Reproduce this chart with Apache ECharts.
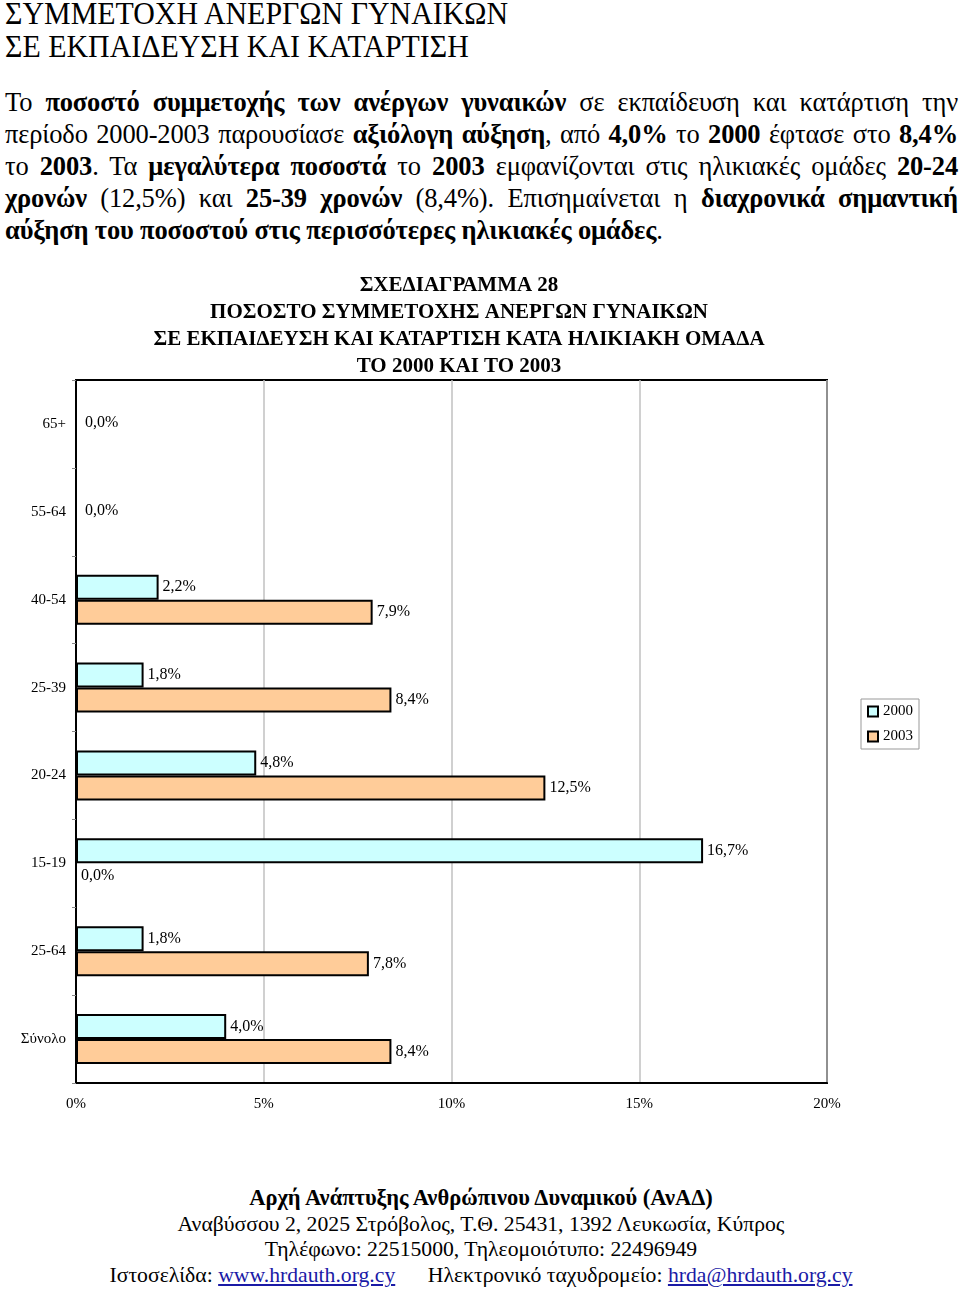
<!DOCTYPE html>
<html>
<head>
<meta charset="utf-8">
<script src="https://cdn.jsdelivr.net/npm/echarts@6/dist/echarts.min.js"></script>
<style>
  body { margin: 0; background: #fff; }
  #page { position: relative; width: 960px; height: 1289px; font-family: "Liberation Serif", serif; color: #000; overflow: hidden; }
  .head { position: absolute; left: 5px; font-family: "Liberation Serif", serif; font-size: 32px; line-height: 33px; white-space: nowrap; transform: scaleX(0.935); transform-origin: left center; }
  #para { position: absolute; left: 5px; top: 86px; width: 953px; font-family: "Liberation Serif", serif; font-size: 26.5px; letter-spacing: -0.15px; line-height: 32px; }
  #para div { text-align: justify; text-align-last: justify; white-space: nowrap; }
  #para div.last { text-align-last: left; }
  #chart { position: absolute; left: 0; top: 265px; width: 960px; height: 870px; }
  #foot { position: absolute; left: 0; top: 1185px; width: 962px; text-align: center; font-size: 21.7px; line-height: 25.7px; }
  #foot b { font-size: 22.5px; }
  #foot a { color: #1a1aa6; text-decoration: underline; }
</style>
</head>
<body>
<div id="page">
  <div class="head" style="top:-3px">ΣΥΜΜΕΤΟΧΗ ΑΝΕΡΓΩΝ ΓΥΝΑΙΚΩΝ</div>
  <div class="head" style="top:30px">ΣΕ ΕΚΠΑΙΔΕΥΣΗ ΚΑΙ ΚΑΤΑΡΤΙΣΗ</div>
  <div id="para">
    <div>Το <b>ποσοστό συμμετοχής των ανέργων γυναικών</b> σε εκπαίδευση και κατάρτιση την</div>
    <div>περίοδο 2000-2003 παρουσίασε <b>αξιόλογη αύξηση</b>, από <b>4,0%</b> το <b>2000</b> έφτασε στο <b>8,4%</b></div>
    <div>το <b>2003</b>. Τα <b>μεγαλύτερα ποσοστά</b> το <b>2003</b> εμφανίζονται στις ηλικιακές ομάδες <b>20-24</b></div>
    <div><b>χρονών</b> (12,5%) και <b>25-39 χρονών</b> (8,4%). Επισημαίνεται η <b>διαχρονικά σημαντική</b></div>
    <div class="last"><b>αύξηση του ποσοστού στις περισσότερες ηλικιακές ομάδες</b>.</div>
  </div>
  <div id="chart"></div>
  <div id="foot">
    <div><b>Αρχή Ανάπτυξης Ανθρώπινου Δυναμικού (ΑνΑΔ)</b></div>
    <div>Αναβύσσου 2, 2025 Στρόβολος, Τ.Θ. 25431, 1392 Λευκωσία, Κύπρος</div>
    <div>Τηλέφωνο: 22515000, Τηλεομοιότυπο: 22496949</div>
    <div>Ιστοσελίδα: <a>www.hrdauth.org.cy</a> &nbsp;&nbsp;&nbsp;&nbsp; Ηλεκτρονικό ταχυδρομείο: <a>hrda@hrdauth.org.cy</a></div>
  </div>
</div>
<script>
// κατηγορίες (από πάνω προς τα κάτω)
var categories = ['65+', '55-64', '40-54', '25-39', '20-24', '15-19', '25-64', 'Σύνολο'];
var values2000 = [null, null, 2.2, 1.8, 4.8, 16.7, 1.8, 4.0];
var values2003 = [0.0, 0.0, 7.9, 8.4, 12.5, 0.0, 7.8, 8.4];
var xTicks = [0, 5, 10, 15, 20];
var titleLines = [
  'ΣΧΕΔΙΑΓΡΑΜΜΑ 28',
  'ΠΟΣΟΣΤΟ ΣΥΜΜΕΤΟΧΗΣ ΑΝΕΡΓΩΝ ΓΥΝΑΙΚΩΝ',
  'ΣΕ ΕΚΠΑΙΔΕΥΣΗ ΚΑΙ ΚΑΤΑΡΤΙΣΗ ΚΑΤΑ ΗΛΙΚΙΑΚΗ ΟΜΑΔΑ',
  'ΤΟ 2000 ΚΑΙ ΤΟ 2003'
];

var serif = '"Liberation Serif", serif';

function pct(p) {
  return p.value.toFixed(1).replace('.', ',') + '%';
}

// όταν λείπει η τιμή του 2000, η ετικέτα του 2003 μπαίνει στη μέση
var data2003 = values2003.map(function (v, i) {
  if (values2000[i] === null) {
    return { value: v, label: { offset: [4, -14] } };
  }
  return v;
});

var myChart = echarts.init(document.getElementById('chart'));

var labelStyle = { show: true, position: 'right', distance: 4, formatter: pct, fontSize: 16, color: '#000', fontFamily: serif };

var option = {
  animation: false,
  textStyle: { fontFamily: serif },
  graphic: titleLines.map(function (t, i) {
    return {
      type: 'text',
      x: 459,
      y: 21 + i * 26.7,
      style: {
        text: t,
        fill: '#000',
        font: 'bold 21px ' + serif,
        textAlign: 'center',
        textVerticalAlign: 'middle'
      }
    };
  }),
  legend: {
    orient: 'vertical',
    left: 861,
    top: 434,
    data: ['2000', '2003'],
    backgroundColor: '#fff',
    borderColor: '#999',
    borderWidth: 1,
    padding: [5, 6, 5, 6],
    itemWidth: 10,
    itemHeight: 10,
    itemGap: 10,
    icon: 'rect',
    textStyle: { fontFamily: serif, fontSize: 15, color: '#000' }
  },
  grid: {
    left: 76,
    top: 115,
    width: 751,
    height: 703,
    show: true,
    borderColor: '#000',
    borderWidth: 2,
    containLabel: false
  },
  xAxis: {
    type: 'value',
    min: xTicks[0],
    max: xTicks[xTicks.length - 1],
    interval: 5,
    axisLine: { show: true, lineStyle: { color: '#000', width: 2 } },
    axisTick: { show: false },
    axisLabel: { formatter: '{value}%', margin: 14, fontSize: 15, color: '#000', fontFamily: serif },
    splitLine: { show: true, lineStyle: { color: '#c0c0c0', width: 1.5 } }
  },
  yAxis: {
    type: 'category',
    data: categories,
    inverse: true,
    axisLine: { show: true, lineStyle: { color: '#000', width: 2 } },
    axisTick: { show: true, length: 4, lineStyle: { color: '#888' } },
    axisLabel: { margin: 10, fontSize: 15, color: '#000', fontFamily: serif }
  },
  series: [
    {
      name: '2000',
      type: 'bar',
      data: values2000,
      barGap: '0%',
      barCategoryGap: '43%',
      itemStyle: { color: '#ccffff', borderColor: '#000', borderWidth: 2 },
      label: labelStyle
    },
    {
      name: '2003',
      type: 'bar',
      data: data2003,
      barGap: '0%',
      barCategoryGap: '43%',
      itemStyle: { color: '#ffcc99', borderColor: '#000', borderWidth: 2 },
      label: labelStyle
    }
  ]
};

myChart.setOption(option);
</script>
</body>
</html>
